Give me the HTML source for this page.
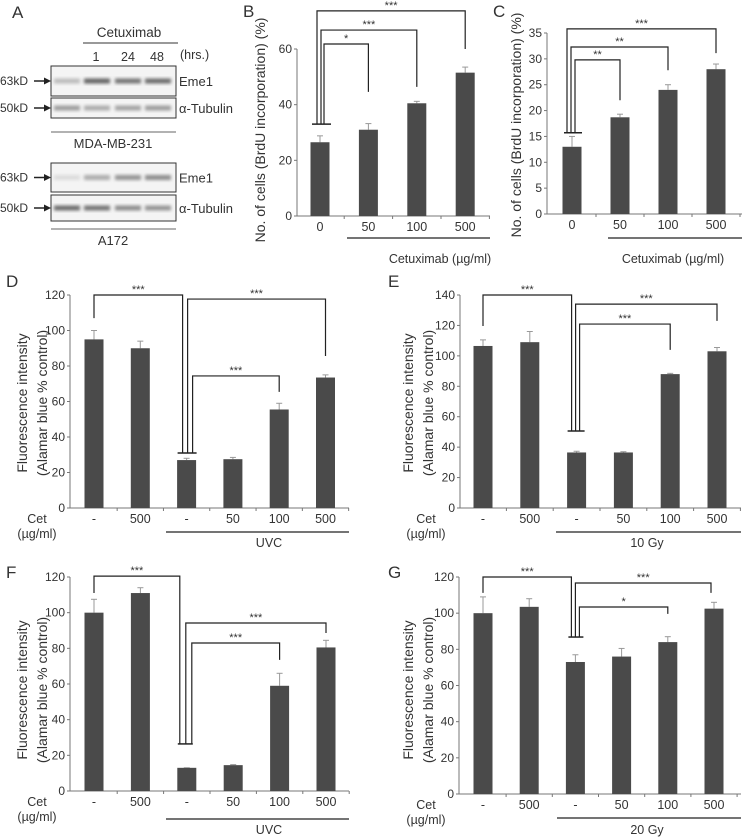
<!DOCTYPE html>
<html><head><meta charset="utf-8">
<style>
body{margin:0;background:#fff;}
svg{display:block;font-family:"Liberation Sans",Arial,sans-serif;}
text{fill:#333;}
</style></head>
<body>
<svg id="fig" width="745" height="839" viewBox="0 0 745 839" xmlns="http://www.w3.org/2000/svg">
<defs><filter id="blur" x="-20%" y="-50%" width="140%" height="200%"><feGaussianBlur stdDeviation="1.6"/></filter></defs>
<g id="panelA">
<text x="12" y="18" font-size="17">A</text>
<text x="129" y="37" font-size="13.5" text-anchor="middle">Cetuximab</text>
<line x1="83" y1="43" x2="178" y2="43" stroke="#333" stroke-width="1"/>
<text x="180" y="59" font-size="12.5">(hrs.)</text>
<text x="96" y="61" font-size="12.5" text-anchor="middle">1</text>
<text x="128" y="61" font-size="12.5" text-anchor="middle">24</text>
<text x="157" y="61" font-size="12.5" text-anchor="middle">48</text>
</g>
<g id="charts"></g>
</svg>
<script>
// ---- data arrays ----
const bCategories = ["0","50","100","500"];
const bValues = [26.5, 31, 40.5, 51.5];
const bErrors = [2.3, 2.2, 0.7, 2];
const bTicks = [0, 20, 40, 60];
const cCategories = ["0","50","100","500"];
const cValues = [13, 18.7, 24, 28];
const cErrors = [2, 0.6, 1, 1];
const cTicks = [0, 5, 10, 15, 20, 25, 30, 35];
const dCategories = ["-","500","-","50","100","500"];
const dValues = [95, 90, 27, 27.5, 55.5, 73.5];
const dErrors = [5, 4, 1, 1, 3.5, 1.5];
const dTicks = [0, 20, 40, 60, 80, 100, 120];
const eCategories = ["-","500","-","50","100","500"];
const eValues = [106.5, 109, 36.5, 36.5, 88, 103];
const eErrors = [4, 7, 0.8, 0.5, 0.5, 2.5];
const eTicks = [0, 20, 40, 60, 80, 100, 120, 140];
const fCategories = ["-","500","-","50","100","500"];
const fValues = [100, 111, 13, 14.5, 59, 80.5];
const fErrors = [7.5, 3, 0, 0.3, 7, 4];
const fTicks = [0, 20, 40, 60, 80, 100, 120];
const gCategories = ["-","500","-","50","100","500"];
const gValues = [100, 103.5, 73, 76, 84, 102.5];
const gErrors = [9, 4.5, 4, 4.5, 3, 3.5];
const gTicks = [0, 20, 40, 60, 80, 100, 120];
// significance brackets: [fromIndex, toIndex, yLevel, leftDrop, rightDrop, label]
const bBrackets = [[0,3,73.7,33,60,"***"],[0,2,66.8,33,46.4,"***"],[0,1,61.8,33,44.6,"*"]];
const cBrackets = [[0,3,35.8,15.7,31.1,"***"],[0,2,32.3,15.7,27.8,"**"],[0,1,29.8,15.7,22,"**"]];
const dBrackets = [[0,2,120,107,31,"***"],[2,5,117.7,31,85.6,"***"],[2,4,74.4,31,65.4,"***"]];
const eBrackets = [[0,2,140,119.6,50.6,"***"],[2,5,134,50.6,123,"***"],[2,4,120.9,50.6,103.9,"***"]];
const fBrackets = [[0,2,120.5,111,26.4,"***"],[2,5,94.2,26.4,88.6,"***"],[2,4,83,26.4,73.5,"***"]];
const gBrackets = [[0,2,120,111.2,86.8,"***"],[2,5,116.7,86.8,111.2,"***"],[2,4,103.4,86.8,99.6,"*"]];

const NS="http://www.w3.org/2000/svg";
const root=document.getElementById('charts');
function mk(tag,attrs,parent,txt){const e=document.createElementNS(NS,tag);for(const k in attrs)e.setAttribute(k,attrs[k]);if(txt!==undefined)e.textContent=txt;(parent||root).appendChild(e);return e;}

// ---- western blot (panel A) ----
const A=document.getElementById('panelA');
function blot(y1,y2,bands,arrowLabel,protein,nm){
  const g=mk('g',{},A);
  
  
  mk('rect',{x:51,y:y1,width:125,height:y2-y1,fill:'#f4f4f4',stroke:'#333','stroke-width':1},g);
  const lanes=[67,97,128,158];
  bands.forEach((o,i)=>{mk('rect',{x:lanes[i]-13,y:(y1+y2)/2-2.5,width:26,height:5,fill:'#555',opacity:o,filter:'url(#blur)'},g);});
  const cy=(y1+y2)/2;
  mk('text',{x:0,y:cy+4,'font-size':12},g,arrowLabel);
  mk('line',{x1:34,y1:cy,x2:46,y2:cy,stroke:'#222','stroke-width':1.5},g);
  mk('path',{d:`M44 ${cy-3.5} L51 ${cy} L44 ${cy+3.5}Z`,fill:'#222'},g);
  mk('text',{x:179,y:cy+5,'font-size':13},g,protein);
}
blot(66,96,[0.35,0.9,0.8,0.85],'63kD','Eme1','blot-mda-eme1');
blot(98,118,[0.55,0.45,0.5,0.55],'50kD','α-Tubulin','blot-mda-tubulin');
mk('line',{x1:51,y1:132,x2:176,y2:132,stroke:'#999','stroke-width':1.5},A);
mk('text',{x:113,y:148,'font-size':13,'text-anchor':'middle'},A,'MDA-MB-231');
blot(163,192,[0.15,0.45,0.6,0.65],'63kD','Eme1','blot-a172-eme1');
blot(195,221,[0.85,0.8,0.65,0.6],'50kD','α-Tubulin','blot-a172-tubulin');
mk('line',{x1:51,y1:229,x2:176,y2:229,stroke:'#999','stroke-width':1.5},A);
mk('text',{x:113,y:245,'font-size':13,'text-anchor':'middle'},A,'A172');

// ---- bar chart panels ----
function panel(P){
  const g=mk('g',{});
  
  
  const maxT=P.ticks[P.ticks.length-1];
  const y=v=>P.y0-(v/maxT)*(P.y0-P.yTop);
  const x=i=>P.xs0+i*P.step;
  const L=mk('text',{x:P.letter[0],y:P.letter[1],'font-size':17},g,P.id.toUpperCase());
  
  
  const ax=mk('g',{},g);
  
  
  mk('line',{x1:P.ax,y1:P.yTop,x2:P.ax,y2:P.y0,stroke:'#777','stroke-width':1},ax);
  P.ticks.forEach(t=>{
    mk('line',{x1:P.ax-3,y1:y(t),x2:P.ax,y2:y(t),stroke:'#777'},ax);
    const tl=mk('text',{x:P.ax-5,y:y(t)+4,'font-size':12,'text-anchor':'end',fill:'#444'},ax,String(t));
    
    
  });
  const xa=mk('g',{},g);
  
  
  mk('line',{x1:P.ax,y1:P.y0,x2:P.xr,y2:P.y0,stroke:'#777'},xa);
  for(let i=1;i<=P.cats.length;i++){mk('line',{x1:x(i)-P.step/2,y1:P.y0,x2:x(i)-P.step/2,y2:P.y0+3,stroke:'#777'},xa);}
  P.cats.forEach((c,i)=>{
    const tl=mk('text',{x:x(i),y:P.y0+15,'font-size':12.5,'text-anchor':'middle',fill:'#444'},xa,c);
    
    
  });
  P.vals.forEach((v,i)=>{
    const e=P.errs[i];
    mk('line',{x1:x(i),y1:y(v+e),x2:x(i),y2:y(v),stroke:'#999','stroke-width':1},g);
    mk('line',{x1:x(i)-3,y1:y(v+e),x2:x(i)+3,y2:y(v+e),stroke:'#999','stroke-width':1},g);
    const r=mk('rect',{x:x(i)-P.bw/2,y:y(v),width:P.bw,height:P.y0-y(v),fill:'#4a4a4a'},g);
    
    
  });
  P.brackets.forEach((b,k)=>{
    const bg=mk('g',{},g);
    
    
    const xl=x(b[0])+P.bOff[k][0], xr=x(b[1])+P.bOff[k][1];
    mk('path',{d:`M${xl} ${y(b[3])} L${xl} ${y(b[2])} L${xr} ${y(b[2])} L${xr} ${y(b[4])}`,fill:'none',stroke:'#222','stroke-width':1.2},bg);
    mk('text',{x:(xl+xr)/2,y:y(b[2])-2,'font-size':11,'text-anchor':'middle',fill:'#333'},bg,b[5]);
  });
  mk('line',{x1:x(P.capI)+P.cap[0],y1:y(P.capV),x2:x(P.capI)+P.cap[1],y2:y(P.capV),stroke:'#222','stroke-width':1.5},g);
  const tg=mk('g',{},g);
  
  
  P.title.forEach((t,k)=>{mk('text',{x:0,y:0,'font-size':14,'text-anchor':'middle',fill:'#444',transform:`translate(${P.titleX[k]},${P.titleY}) rotate(-90)`},tg,t);});
  const gl=mk('g',{},g);
  
  
  mk('line',{x1:P.grp[0],y1:P.grp[1],x2:P.xr,y2:P.grp[1],stroke:'#222','stroke-width':1.2},gl);
  mk('text',{x:P.grp[2],y:P.grp[3],'font-size':12.5,'text-anchor':'middle',fill:'#444'},gl,P.grpLabel);
  if(P.cet){
    mk('text',{x:P.cet[0],y:P.y0+15,'font-size':12.5,'text-anchor':'middle',fill:'#444'},gl,'Cet');
    mk('text',{x:P.cet[0],y:P.y0+30,'font-size':12.5,'text-anchor':'middle',fill:'#444'},gl,'(µg/ml)');
  }
}
const brdu=['No. of cells (BrdU incorporation) (%)'];
const fl=['Fluorescence intensity','(Alamar blue % control)'];
panel({id:'b',cats:bCategories,vals:bValues,errs:bErrors,ticks:bTicks,brackets:bBrackets,
  ax:297,y0:216,yTop:49,xr:490,xs0:320,step:48.4,bw:19,letter:[243,17],
  bOff:[[-3,0],[1,0],[4,0]],capI:0,cap:[-8,11],capV:33,title:brdu,titleX:[265],titleY:130,
  grp:[347,238,440,263],grpLabel:'Cetuximab (µg/ml)'});
panel({id:'c',cats:cCategories,vals:cValues,errs:cErrors,ticks:cTicks,brackets:cBrackets,
  ax:547,y0:214,yTop:33,xr:742,xs0:572,step:48,bw:19,letter:[493,17],
  bOff:[[-5,0],[-1,0],[3,0]],capI:0,cap:[-8,10],capV:15.7,title:brdu,titleX:[521],titleY:125,
  grp:[608,238,673,263],grpLabel:'Cetuximab (µg/ml)'});
panel({id:'d',cats:dCategories,vals:dValues,errs:dErrors,ticks:dTicks,brackets:dBrackets,
  ax:70,y0:508,yTop:295,xr:349,xs0:94,step:46.3,bw:19,letter:[6,287],
  bOff:[[0,-4],[1,0],[6,0]],capI:2,cap:[-9,10],capV:31,title:fl,titleX:[27,47],titleY:403,
  grp:[166,532,269,547],grpLabel:'UVC',cet:[37]});
panel({id:'e',cats:eCategories,vals:eValues,errs:eErrors,ticks:eTicks,brackets:eBrackets,
  ax:460,y0:508,yTop:295,xr:741,xs0:483,step:46.8,bw:19,letter:[388,287],
  bOff:[[0,-5],[-1,0],[3,0]],capI:2,cap:[-9,8],capV:50.6,title:fl,titleX:[413,433],titleY:403,
  grp:[556,532,647,547],grpLabel:'10 Gy',cet:[426]});
panel({id:'f',cats:fCategories,vals:fValues,errs:fErrors,ticks:fTicks,brackets:fBrackets,
  ax:70,y0:791,yTop:577,xr:349,xs0:94,step:46.4,bw:19,letter:[6,578],
  bOff:[[0,-7],[-1,0],[5,0]],capI:2,cap:[-9,6],capV:26.4,title:fl,titleX:[27,47],titleY:690,
  grp:[166,819,269,834],grpLabel:'UVC',cet:[37]});
panel({id:'g',cats:gCategories,vals:gValues,errs:gErrors,ticks:gTicks,brackets:gBrackets,
  ax:459,y0:794,yTop:577,xr:741,xs0:483,step:46.2,bw:19,letter:[388,578],
  bOff:[[0,-4],[0,-3],[4,0]],capI:2,cap:[-7,8],capV:86.8,title:fl,titleX:[413,433],titleY:690,
  grp:[557,818,647,834],grpLabel:'20 Gy',cet:[426]});
</script>
</body></html>
